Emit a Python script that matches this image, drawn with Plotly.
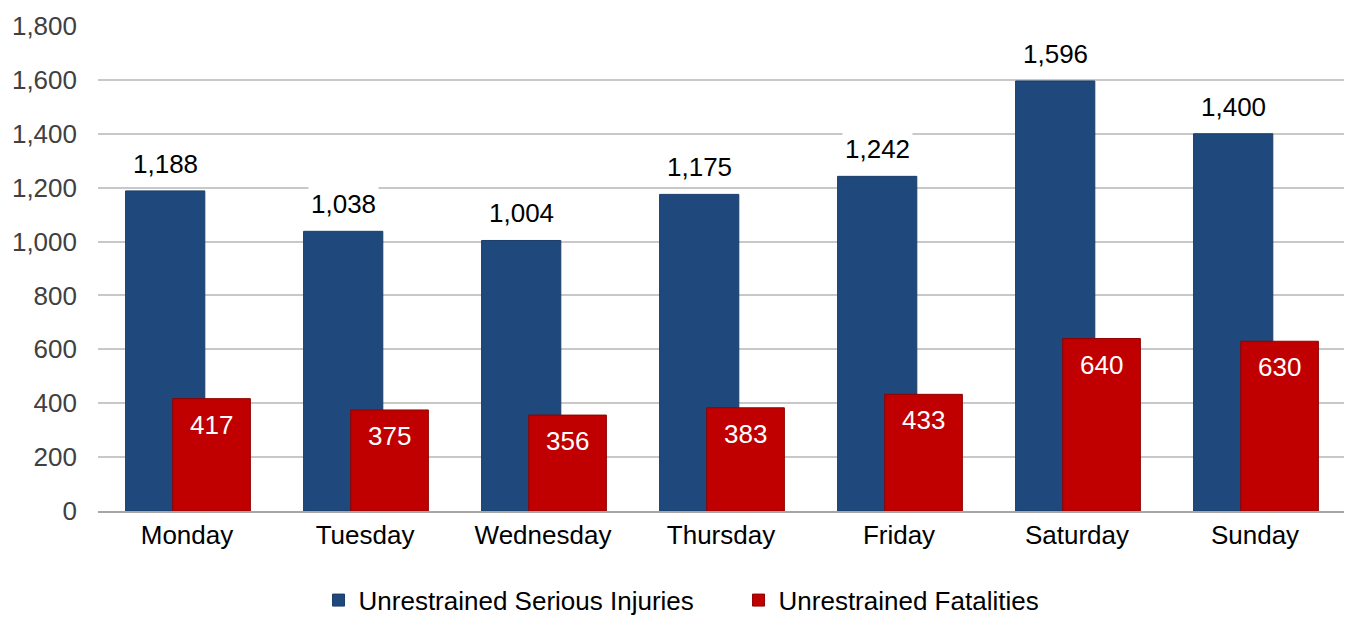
import plotly.graph_objects as go

days = ["Monday", "Tuesday", "Wednesday", "Thursday", "Friday", "Saturday", "Sunday"]
serious_injuries = [1188, 1038, 1004, 1175, 1242, 1596, 1400]
fatalities = [417, 375, 356, 383, 433, 640, 630]

BLUE = "#1F497D"
RED = "#C00000"
FONT = "Liberation Sans, Arial, sans-serif"
FS = 26

fig = go.Figure()

# Blue bars (left, behind)
fig.add_trace(go.Bar(
    x=days, y=serious_injuries, name="Unrestrained Serious Injuries",
    marker=dict(color=BLUE, line=dict(color="#1A3D68", width=1)),
    offset=-0.345, width=0.445,
))

# Red bars (right, on top)
fig.add_trace(go.Bar(
    x=days, y=fatalities, name="Unrestrained Fatalities",
    marker=dict(color=RED, line=dict(color="#8E0000", width=1)),
    offset=-0.08, width=0.436,
))

# Blue labels above bars, on a white box that hides the gridline
for i, v in enumerate(serious_injuries):
    fig.add_annotation(
        x=i - 0.1225, y=v, text=f"{v:,}", showarrow=False,
        yanchor="bottom", yshift=9, bgcolor="white", borderpad=2,
        font=dict(size=FS, color="#000000", family=FONT),
    )

# Red labels inside near the top of the bars
for i, v in enumerate(fatalities):
    fig.add_annotation(
        x=i + 0.138, y=v, text=f"{v:,}", showarrow=False,
        yanchor="top", yshift=-9,
        font=dict(size=FS, color="white", family=FONT),
    )

# page body has an 8px margin, so the figure is a bit smaller than the window
fig.update_layout(
    barmode="overlay",
    width=1336, height=608,
    margin=dict(l=90, r=0, t=18, b=105),
    plot_bgcolor="white", paper_bgcolor="white",
    font=dict(family=FONT, size=FS, color="#000000"),
    showlegend=True,
    legend=dict(
        orientation="h", x=0.177, xanchor="left",
        yref="container", y=0.026, yanchor="middle",
        font=dict(size=FS, color="#000000"),
        traceorder="normal", entrywidth=375,
    ),
    xaxis=dict(
        showline=True, linecolor="#A6A6A6", linewidth=1.5,
        tickfont=dict(size=FS, color="#000000"), ticks="",
        range=[-0.5, 6.5], automargin=False,
    ),
    yaxis=dict(
        range=[0, 1800], dtick=200, tickformat=",d",
        showgrid=True, gridcolor="#C8C8C8", gridwidth=1.5,
        zeroline=False, ticklabelstandoff=20, automargin=False,
        tickfont=dict(size=FS, color="#404040"),
    ),
)

fig.write_html("out.html")
